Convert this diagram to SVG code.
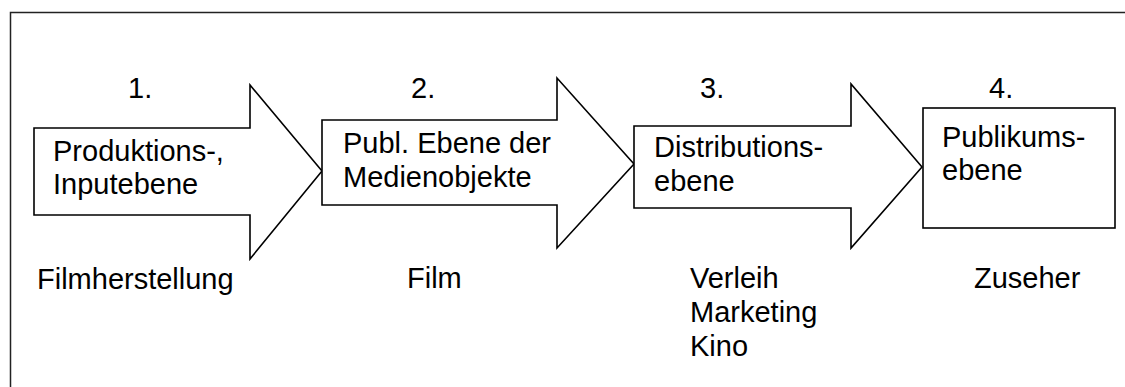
<svg xmlns="http://www.w3.org/2000/svg" width="1125" height="387" viewBox="0 0 1125 387">
<style>
.shape{fill:#fff;stroke:#000;stroke-width:1.6;stroke-linejoin:miter}
.frame{fill:#fff;stroke:#222;stroke-width:1.5}
text{font-family:"Liberation Sans",Arial,sans-serif;font-size:29px;fill:#000}
</style>
<rect class="frame" x="10.5" y="12.5" width="1140" height="400"/>
<g id="stage1">
<polygon class="shape" points="34,128 250,128 250,85 322,171 250,259 250,215 34,215"/>
<text x="128" y="98">1.</text>
<text x="53" y="161">Produktions-,</text>
<text x="53" y="194">Inputebene</text>
<text x="37" y="289">Filmherstellung</text>
</g>
<g id="stage2">
<polygon class="shape" points="322,120 557,120 557,78 634,164 557,248 557,205 322,205"/>
<text x="411" y="98">2.</text>
<text x="343" y="153">Publ. Ebene der</text>
<text x="343" y="187">Medienobjekte</text>
<text x="407" y="288">Film</text>
</g>
<g id="stage3">
<polygon class="shape" points="634,126 851,126 851,84 922,167 851,248 851,208 634,208"/>
<text x="700" y="98">3.</text>
<text x="654" y="157">Distributions-</text>
<text x="654" y="191">ebene</text>
<text x="690" y="288">Verleih</text>
<text x="690" y="322">Marketing</text>
<text x="690" y="356">Kino</text>
</g>
<g id="stage4">
<rect class="shape" x="923" y="108" width="192" height="120"/>
<text x="989" y="98">4.</text>
<text x="942" y="147">Publikums-</text>
<text x="942" y="180">ebene</text>
<text x="974" y="288">Zuseher</text>
</g>
<g id="connectors"></g>
</svg>
